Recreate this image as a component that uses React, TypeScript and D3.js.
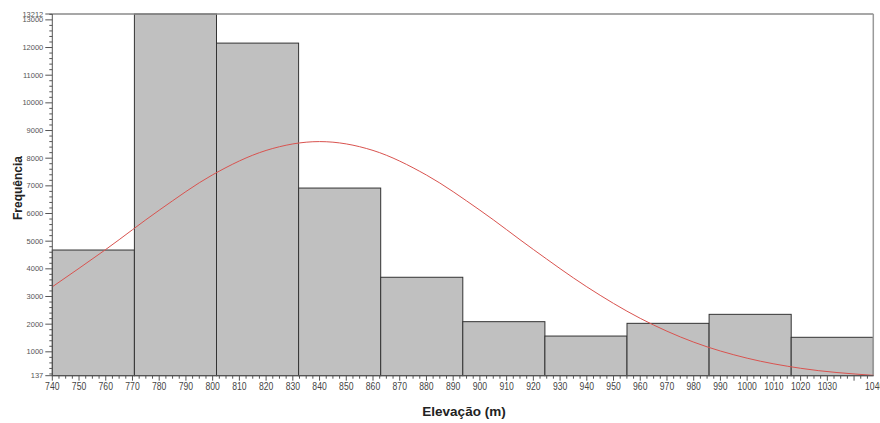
import React from "react";
import * as d3 from "d3";

const binEdges = [740, 770.72, 801.44, 832.16, 862.88, 893.6, 924.32, 955.04, 985.76, 1016.48, 1047.2];
const frequencies = [4680, 13212, 12160, 6920, 3695, 2090, 1570, 2030, 2355, 1525];

const curveX = [740, 760, 780, 800, 820, 840, 860, 880, 900, 920, 940, 960, 980, 1000, 1020, 1047.2];
const curveY = [3350, 4700, 6120, 7400, 8280, 8600, 8280, 7390, 6120, 4700, 3350, 2210, 1350, 770, 405, 150];

const yTickValues = [137, 1000, 2000, 3000, 4000, 5000, 6000, 7000, 8000, 9000, 10000, 11000, 12000, 13000, 13212];
const xTickValues = d3.range(740, 1041, 10);

const W = 880;
const H = 423;
const left = 52.3;
const right = 873.3;
const top = 14;
const bottom = 375.7;

export default function App() {
  const x = d3.scaleLinear().domain([740, 1047.2]).range([left, right]);
  const y = d3.scaleLinear().domain([137, 13212]).range([bottom, top]);

  const line = d3
    .line<number>()
    .x((_, i) => x(curveX[i]))
    .y((d) => y(d))
    .curve(d3.curveMonotoneX);

  const yMinor = d3.range(200, 13212, 200).filter((v) => v % 1000 !== 0);
  const xMinor = d3.range(740, 1047.2, 2.5).filter((v) => Math.abs(v % 10) > 0.01);

  const font = "'Liberation Sans', Arial, sans-serif";

  return (
    <svg
      width={W}
      height={H}
      style={{ position: "absolute", left: 0, top: 0, background: "#fff" }}
      fontFamily={font}
    >
      <rect x={0} y={0} width={W} height={H} fill="#fff" />
      {/* bars */}
      {frequencies.map((f, i) => (
        <rect
          key={i}
          x={x(binEdges[i])}
          y={y(f)}
          width={x(binEdges[i + 1]) - x(binEdges[i])}
          height={bottom - y(f)}
          fill="#c0c0c0"
          stroke="#333"
          strokeWidth={1}
        />
      ))}
      {/* frame */}
      <line x1={left} x2={right} y1={top} y2={top} stroke="#8a8a8a" strokeWidth={1.5} />
      <line x1={right} x2={right} y1={top} y2={bottom} stroke="#9a9a9a" strokeWidth={1.5} />
      {/* curve */}
      <path d={line(curveY) || ""} fill="none" stroke="#d9534f" strokeWidth={1} />
      {/* y axis */}
      <line x1={left} x2={left} y1={top} y2={bottom} stroke="#555" strokeWidth={1} />
      {yMinor.map((v) => (
        <line key={"ym" + v} x1={left - 3} x2={left} y1={y(v)} y2={y(v)} stroke="#555" strokeWidth={1} />
      ))}
      {yTickValues.map((v) => (
        <g key={"yt" + v}>
          <line x1={left - 7} x2={left} y1={y(v)} y2={y(v)} stroke="#555" strokeWidth={1} />
          <text x={left - 9} y={y(v)} dy="0.35em" textAnchor="end" fontSize={7.5} fill="#555">
            {v}
          </text>
        </g>
      ))}
      {/* x axis */}
      <line x1={left} x2={right} y1={bottom} y2={bottom} stroke="#555" strokeWidth={1} />
      {xMinor.map((v) => (
        <line key={"xm" + v} x1={x(v)} x2={x(v)} y1={bottom} y2={bottom + 3} stroke="#555" strokeWidth={1} />
      ))}
      {xTickValues.map((v) => (
        <g key={"xt" + v}>
          <line x1={x(v)} x2={x(v)} y1={bottom} y2={bottom + 5} stroke="#555" strokeWidth={1} />
          <text
            transform={`translate(${v === 1040 ? x(v) + 11 : x(v)},${bottom + 14}) scale(0.75,1)`}
            textAnchor={v === 1040 ? "start" : "middle"}
            fontSize={11.5}
            fill="#444"
          >
            {v}
          </text>
        </g>
      ))}
      {/* titles */}
      <text x={464} y={416} textAnchor="middle" fontSize={13.5} fontWeight="bold" fill="#222">
        Elevação (m)
      </text>
      <text
        transform={`translate(22,${188}) rotate(-90)`}
        textAnchor="middle"
        fontSize={12}
        fontWeight="bold"
        fill="#222"
      >
        Frequência
      </text>
    </svg>
  );
}
